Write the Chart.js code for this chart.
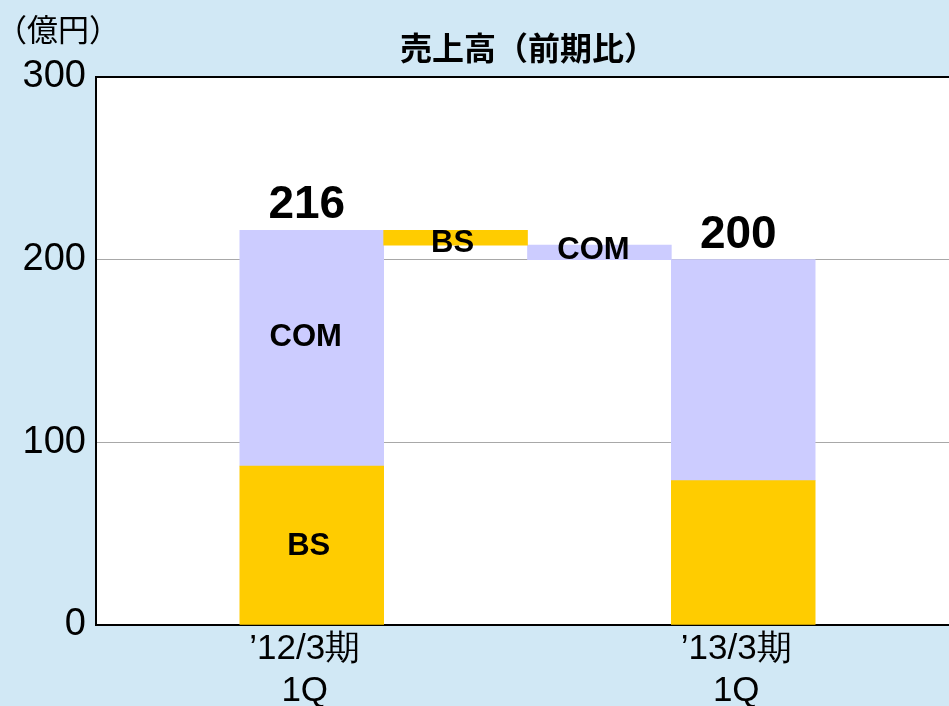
<!DOCTYPE html>
<html><head><meta charset="utf-8">
<script src="https://cdn.jsdelivr.net/npm/chart.js@4/dist/chart.umd.min.js"></script>
<style>html,body{margin:0;padding:0;overflow:hidden;background:#d1e8f5}
#wrap{width:962px;height:706px;position:relative}
</style></head><body><div id="wrap"><canvas id="c" width="962" height="706"></canvas></div>
<script>
const categories = ['', ["’12/3期", "1Q"], '', '', ["’13/3期", "1Q"], ''];
const bsValues = [null, [0, 87], [208, 216], null, [0, 79], null];
const comValues = [null, [87, 216], null, [200, 208], [79, 200], null];
const totals = [null, 216, null, null, 200, null];
const bsLabelShown = [false, true, true, false, false, false];
const comLabelShown = [false, true, false, true, false, false];
const yTicks = [0, 100, 200, 300];
const titleText = '売上高（前期比）';
const unitText = '（億円）';

const BG = '#d1e8f5';
const YELLOW = '#ffcc00';
const LAVENDER = '#ccccff';
const SANS = '"Liberation Sans", Arial, sans-serif';
const CJK = '"Noto Sans CJK JP", "Liberation Sans", sans-serif';

const bgPlugin = {
  id: 'bg',
  beforeDraw(chart) {
    const {ctx, chartArea: a} = chart;
    ctx.save();
    ctx.fillStyle = BG;
    ctx.fillRect(0, 0, chart.width, chart.height);
    ctx.fillStyle = '#ffffff';
    ctx.fillRect(a.left, a.top, a.right - a.left, a.bottom - a.top);
    ctx.restore();
  }
};

const labelPlugin = {
  id: 'labels',
  afterDatasetsDraw(chart) {
    const {ctx} = chart;
    const xs = chart.scales.x, ys = chart.scales.y;
    ctx.save();
    ctx.fillStyle = '#000';
    ctx.textAlign = 'center';
    ctx.textBaseline = 'middle';
    categories.forEach((c, i) => {
      const x = xs.getPixelForValue(i) - 5;
      if (totals[i] != null) {
        ctx.font = 'bold 46px ' + SANS;
        ctx.textBaseline = 'alphabetic';
        ctx.fillText(String(totals[i]), x, ys.getPixelForValue(totals[i]) - 12);
        ctx.textBaseline = 'middle';
      }
      ctx.font = 'bold 31px ' + SANS;
      if (bsLabelShown[i] && bsValues[i]) {
        const m = (bsValues[i][0] + bsValues[i][1]) / 2;
        const y = ys.getPixelForValue(m);
        ctx.fillText('BS', x + 2, i === 1 ? y + 1 : y + 6);
      }
      if (comLabelShown[i] && comValues[i]) {
        const m = (comValues[i][0] + comValues[i][1]) / 2;
        const y = ys.getPixelForValue(m);
        ctx.fillText('COM', x - 1, i === 1 ? y - 11 : y - 2);
      }
    });
    // title and unit
    ctx.font = 'bold 32px ' + CJK;
    ctx.fillText(titleText, 528, 48);
    ctx.font = '31px ' + CJK;
    ctx.textAlign = 'left';
    ctx.fillText(unitText, -4, 29);
    ctx.restore();
  }
};

new Chart(document.getElementById('c'), {
  type: 'bar',
  data: {
    labels: categories,
    datasets: [
      {label: 'BS', data: bsValues, backgroundColor: YELLOW, borderWidth: 0, grouped: false, barPercentage: 1, categoryPercentage: 1},
      {label: 'COM', data: comValues, backgroundColor: LAVENDER, borderWidth: 0, grouped: false, barPercentage: 1, categoryPercentage: 1}
    ]
  },
  options: {
    responsive: false,
    animation: false,
    devicePixelRatio: 1,
    layout: {padding: {top: 77, right: 3, left: 0, bottom: 0}},
    plugins: {legend: {display: false}, title: {display: false}, tooltip: {enabled: false}},
    scales: {
      x: {
        grid: {display: false, drawTicks: false},
        border: {display: true, color: '#000', width: 2},
        ticks: {color: '#000', font: {family: SANS, size: 35, lineHeight: 1.2}, padding: 3, labelOffset: -7, maxRotation: 0, autoSkip: false},
        afterFit(s) { s.height = 81; }
      },
      y: {
        min: 0, max: 300,
        afterBuildTicks(s) { s.ticks = yTicks.map(v => ({value: v})); },
        grid: {
          drawTicks: false,
          color: ctx => (ctx.tick && (ctx.tick.value === 300)) ? '#000' : '#a8a8a8',
          lineWidth: ctx => (ctx.tick && ctx.tick.value === 300) ? 2 : 1
        },
        border: {display: true, color: '#000', width: 2},
        ticks: {color: '#000', font: {family: SANS, size: 38}, padding: 10},
        afterFit(s) { s.width = 96; }
      }
    }
  },
  plugins: [bgPlugin, labelPlugin]
});
</script></body></html>
